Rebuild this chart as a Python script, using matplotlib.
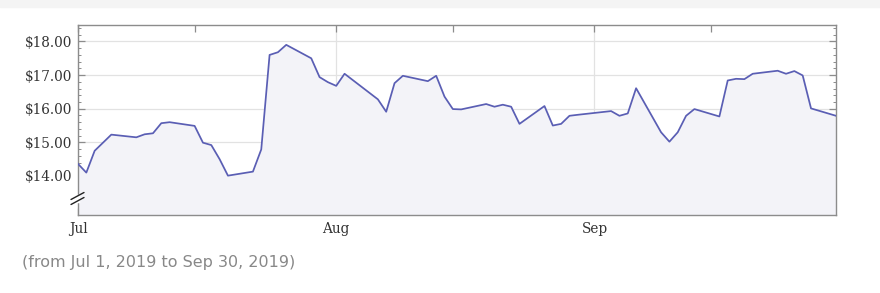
# Stock price, Jul - Sep 2019
import numpy as np
import pandas as pd
import matplotlib
matplotlib.use("Agg")
import matplotlib.pyplot as plt
from matplotlib.ticker import MultipleLocator, FuncFormatter

# trading days and closing prices
dates = [
    "2019-07-01", "2019-07-02", "2019-07-03", "2019-07-05", "2019-07-08",
    "2019-07-09", "2019-07-10", "2019-07-11", "2019-07-12", "2019-07-15",
    "2019-07-16", "2019-07-17", "2019-07-18", "2019-07-19", "2019-07-22",
    "2019-07-23", "2019-07-24", "2019-07-25", "2019-07-26", "2019-07-29",
    "2019-07-30", "2019-07-31",
    "2019-08-01", "2019-08-02", "2019-08-05", "2019-08-06", "2019-08-07",
    "2019-08-08", "2019-08-09", "2019-08-12", "2019-08-13", "2019-08-14",
    "2019-08-15", "2019-08-16", "2019-08-19", "2019-08-20", "2019-08-21",
    "2019-08-22", "2019-08-23", "2019-08-26", "2019-08-27", "2019-08-28",
    "2019-08-29", "2019-08-30",
    "2019-09-03", "2019-09-04", "2019-09-05", "2019-09-06", "2019-09-09",
    "2019-09-10", "2019-09-11", "2019-09-12", "2019-09-13", "2019-09-16",
    "2019-09-17", "2019-09-18", "2019-09-19", "2019-09-20", "2019-09-23",
    "2019-09-24", "2019-09-25", "2019-09-26", "2019-09-27", "2019-09-30",
]
prices = [
    14.36, 14.10, 14.75, 15.23, 15.15,
    15.24, 15.27, 15.57, 15.60, 15.49,
    14.99, 14.92, 14.50, 14.01, 14.13,
    14.79, 17.60, 17.68, 17.90, 17.50,
    16.94, 16.79,
    16.68, 17.04, 16.47, 16.28, 15.91,
    16.76, 16.98, 16.82, 16.98, 16.36,
    15.99, 15.98, 16.14, 16.06, 16.12,
    16.06, 15.55, 16.08, 15.50, 15.55,
    15.79, 15.82,
    15.93, 15.79, 15.86, 16.61, 15.30,
    15.02, 15.30, 15.79, 15.99, 15.77,
    16.84, 16.89, 16.88, 17.04, 17.13,
    17.04, 17.12, 16.99, 16.01, 15.79,
]
month_ticks = ["2019-07-01", "2019-08-01", "2019-09-01"]
month_labels = ["Jul", "Aug", "Sep"]
mid_ticks = ["2019-07-15", "2019-08-15", "2019-09-15"]
caption = "(from Jul 1, 2019 to Sep 30, 2019)"

x = pd.to_datetime(dates)
y_lo, y_hi = 12.84, 18.49
line_col = "#5a5eb4"
frame_col = "#8c8c8c"

fig = plt.figure(figsize=(8.8, 2.93), dpi=100)
# light band across the top of the page
fig.patches.append(plt.Rectangle((0, 1 - 7 / 293), 1, 7 / 293, transform=fig.transFigure,
                                 color="#f4f4f4", zorder=0))
ax = fig.add_axes([78 / 880, 1 - 215 / 293, (836 - 78) / 880, (215 - 25) / 293])

ax.fill_between(x, prices, y_lo, color="#f3f3f8", zorder=1)
ax.plot(x, prices, color=line_col, lw=1.25, zorder=3)

ax.set_xlim(pd.Timestamp("2019-07-01"), pd.Timestamp("2019-09-30"))
ax.set_ylim(y_lo, y_hi)

# y axis
ax.set_yticks([14, 15, 16, 17, 18])
ax.yaxis.set_minor_locator(MultipleLocator(0.2))
ax.yaxis.set_major_formatter(FuncFormatter(lambda v, p: f"${v:.2f}"))
ax.tick_params(axis="y", which="major", direction="in", length=5, width=0.9,
               color=frame_col, left=True, right=True, labelsize=9.8, labelcolor="#333333", pad=4)
ax.tick_params(axis="y", which="minor", direction="in", length=2.5, width=0.7,
               color=frame_col, left=True, right=True)

# x axis
ax.set_xticks(pd.to_datetime(month_ticks))
ax.set_xticklabels(month_labels)
ax.set_xticks(pd.to_datetime(mid_ticks), minor=True)
ax.tick_params(axis="x", which="both", direction="in", length=5, width=0.9,
               color=frame_col, top=True, bottom=True, labelsize=9.8, labelcolor="#333333", pad=5)

for lbl in ax.get_xticklabels() + ax.get_yticklabels():
    lbl.set_family("DejaVu Serif")

ax.grid(True, which="major", color="#e2e2e2", lw=0.9, zorder=0)
ax.set_axisbelow(True)
for s in ax.spines.values():
    s.set_color(frame_col)
    s.set_linewidth(1.0)

# axis break mark near the bottom of the y axis (gap in spine + two slashes)
ax.plot([0, 0], [14 / 190, 19 / 190], color="white", lw=2.5, transform=ax.transAxes,
        clip_on=False, zorder=6)
for y0 in (10.5, 15.5):
    ax.annotate("", xy=(6, y0 + 7), xytext=(-7, y0), xycoords="axes pixels",
                textcoords="axes pixels", zorder=7,
                arrowprops=dict(arrowstyle="-", color="#222222", lw=1.0,
                                shrinkA=0, shrinkB=0))

fig.text(22 / 880, 1 - 263 / 293, caption, fontsize=11.5, color="#888888",
         family="DejaVu Sans", va="center", ha="left")

fig.savefig("out.png", dpi=100)
